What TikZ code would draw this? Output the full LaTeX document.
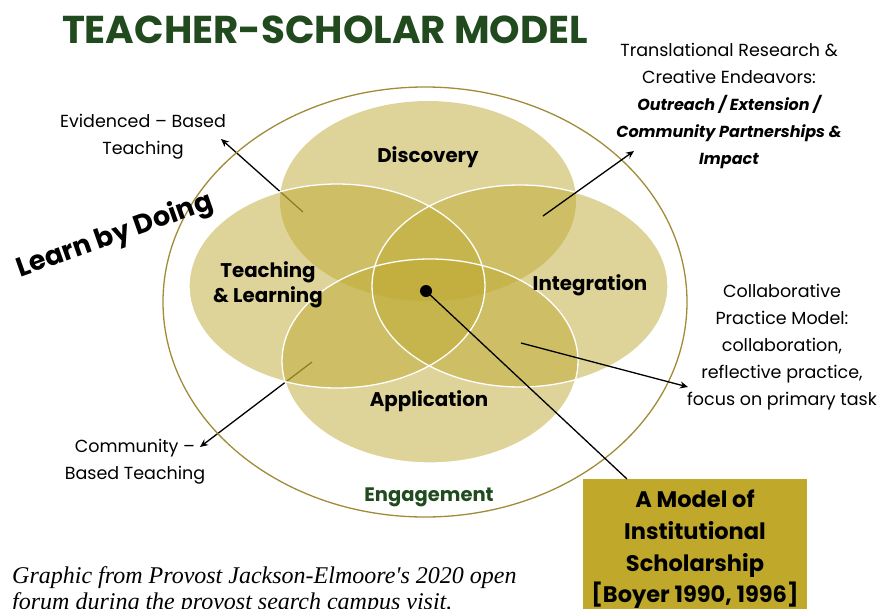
\documentclass[tikz,border=0pt]{standalone}
\usepackage{fontspec}
\setmainfont{Poppins}
\newfontfamily\capfont{Liberation Serif}
\usetikzlibrary{arrows.meta}
\definecolor{gold}{RGB}{191,171,53}
\definecolor{boxgold}{RGB}{191,168,42}
\definecolor{dgreen}{RGB}{33,75,30}
\definecolor{ring}{RGB}{160,140,55}
\newcommand{\bi}[1]{{\bfseries\itshape\fontsize{16}{27}\selectfont #1}}
\begin{document}
\begin{tikzpicture}[x=1pt,y=-1pt,
  petal/.style={fill=gold, fill opacity=0.5},
  petaledge/.style={draw=white, line width=1.3pt},
  arr/.style={draw=black, line width=1.3pt, -{Stealth[length=8pt,width=7pt]}},
  lbl/.style={font=\fontsize{17.5}{27}\selectfont, align=center, inner sep=0pt},
  inlbl/.style={font=\bfseries\fontsize{19.8}{25}\selectfont, align=center, inner sep=0pt},
]
\useasboundingbox (0,0) rectangle (878,608);
\fill[white] (0,0) rectangle (878,608);

% arrows under the petals
\coordinate (evs) at (303,212);
\coordinate (eve) at (221,139);
\coordinate (cos) at (312,362);
\coordinate (coe) at (200,447);
\draw[arr] (evs) -- (eve);
\draw[arr] (cos) -- (coe);

% outer ring
\draw[ring, line width=1.3pt] (425,302) ellipse [x radius=262, y radius=215];

% petals
\path[petal] (428,201) ellipse [x radius=148, y radius=100];
\path[petal] (337,286) ellipse [x radius=148, y radius=102];
\path[petal] (520,286) ellipse [x radius=148, y radius=101];
\path[petal] (430,361) ellipse [x radius=148, y radius=102];
\path[petaledge] (337,286) ellipse [x radius=148, y radius=102];
\path[petaledge] (520,286) ellipse [x radius=148, y radius=101];
\path[petaledge] (430,361) ellipse [x radius=148, y radius=102];

% title
\node[font=\bfseries\fontsize{38.8}{40}\selectfont, text=dgreen, inner sep=0pt] (title) at (325,30) {TEACHER-SCHOLAR MODEL};

% petal labels
\node[inlbl] (disc) at (428,157) {Discovery};
\node[inlbl] (teach) at (268,285) {Teaching\\\& Learning};
\node[inlbl] (integ) at (590,285) {Integration};
\node[inlbl] (appl) at (429,401) {Application};
\node[inlbl, text=dgreen, font=\bfseries\fontsize{19.5}{25}\selectfont] (eng) at (429,497) {Engagement};
\node[font=\bfseries\fontsize{27}{27}\selectfont, rotate=19.5, inner sep=0pt] (lbd) at (115,236) {Learn by Doing};

% outer labels
\node[lbl] (evid) at (143,137) {Evidenced -- Based\\Teaching};
\node[lbl] (trans) at (729,106) {Translational Research \&\\Creative Endeavors:\\\bi{Outreach / Extension /}\\\bi{Community Partnerships \&}\\\bi{Impact}};
\node[lbl] (collab) at (782,347) {Collaborative\\Practice Model:\\collaboration,\\reflective practice,\\focus on primary task};
\node[lbl] (comm) at (135,462) {Community --\\Based Teaching};

% box
\node[fill=boxgold, minimum width=224, minimum height=140, anchor=north west, inner sep=0pt] (box) at (583,479) {};
\node[font=\bfseries\fontsize{22.5}{31.7}\selectfont, align=center, inner sep=0pt] (boxtxt) at (695,549.5) {A Model of\\Institutional\\Scholarship\\{[Boyer 1990, 1996]}};

% arrows on top
\coordinate (trs) at (543,216);
\coordinate (tre) at (634,151);
\coordinate (cls) at (521,343);
\coordinate (cle) at (688,387);
\draw[arr] (trs) -- (tre);
\draw[arr] (cls) -- (cle);
\coordinate (dot) at (426,291);
\coordinate (boxin) at (627,479);
\fill (dot) circle [radius=6];
\draw[line width=1.3pt] (dot) -- (boxin);

% caption
\node[font=\capfont\itshape\fontsize{24}{26}\selectfont, align=left, anchor=base west, inner sep=0pt] (cap) at (12,609) {Graphic from Provost Jackson-Elmoore's 2020 open\\forum during the provost search campus visit.};
\end{tikzpicture}
\end{document}
